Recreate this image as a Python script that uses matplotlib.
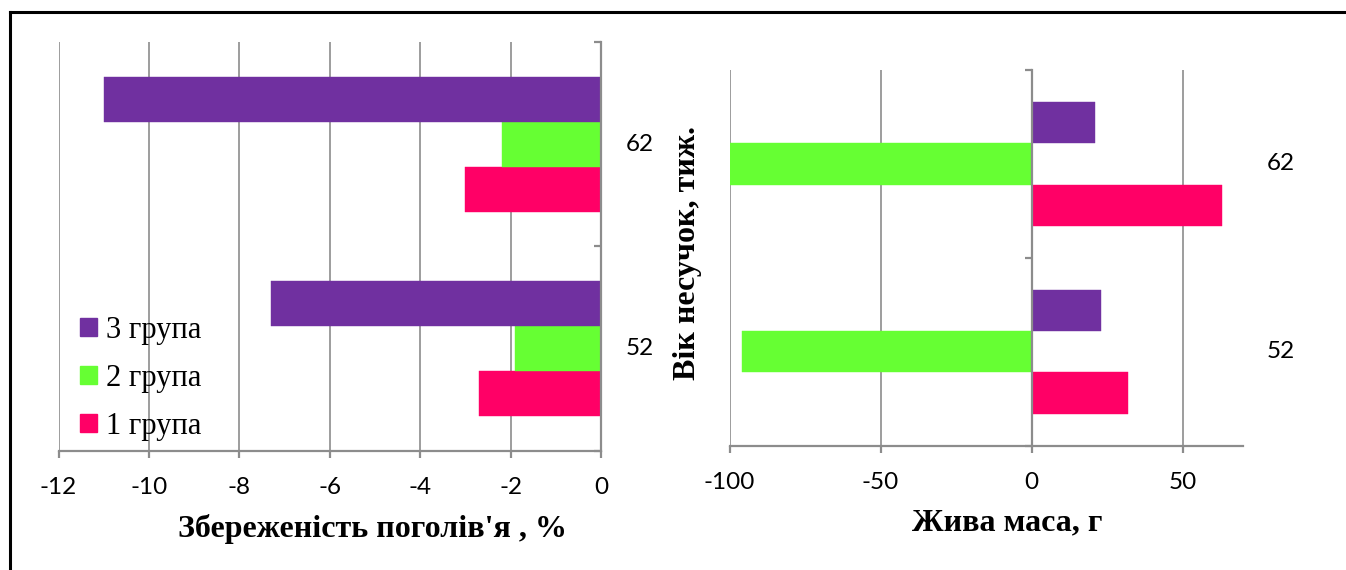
import matplotlib
matplotlib.use("Agg")
import matplotlib.pyplot as plt
from matplotlib.lines import Line2D
from matplotlib.patches import Patch

# ---- data ----
ages = ["52", "62"]
groups = ["1 група", "2 група", "3 група"]
colors = ["#FF0066", "#66FF33", "#7030A0"]
survival = {  # Збереженість поголів'я, %
    "1 група": [-2.7, -3.0],
    "2 група": [-1.9, -2.2],
    "3 група": [-7.3, -11.0],
}
weight = {  # Жива маса, г
    "1 група": [32, 63],
    "2 група": [-96, -100],
    "3 група": [23, 21],
}
left_ticks = [-12, -10, -8, -6, -4, -2, 0]
right_ticks = [-100, -50, 0, 50]

W, H = 1346, 570
fig = plt.figure(figsize=(W / 100, H / 100), dpi=100)

GRID = "#8c8c8c"
tick_font = dict(family="Lato", size=17.5)
label_font = dict(family="Liberation Serif", weight="bold", size=23)


def px_axes(x0, y0, x1, y1):
    return fig.add_axes([x0 / W, 1 - y1 / H, (x1 - x0) / W, (y1 - y0) / H])


def style(ax, data, xlim, xticks, lab_x):
    bh = 0.22
    offsets = [-bh, 0.0, bh]
    for g, c, off in zip(groups, colors, offsets):
        ys = [i + off for i in range(len(ages))]
        ax.barh(ys, data[g], height=bh, color=c, edgecolor=c, linewidth=0.3, zorder=1)
    ax.set_xlim(*xlim)
    ax.set_ylim(-0.5, len(ages) - 0.5)
    ax.set_axisbelow(True)
    ax.set_xticks(xticks)
    ax.set_xticklabels([str(t) for t in xticks], fontdict=tick_font)
    ax.xaxis.grid(True, color=GRID, linewidth=1.2)
    for s in ["top", "right"]:
        ax.spines[s].set_visible(False)
    ax.spines["left"].set_position(("data", 0))
    ax.spines["left"].set_color(GRID)
    ax.spines["left"].set_linewidth(1.6)
    ax.spines["bottom"].set_color(GRID)
    ax.spines["bottom"].set_linewidth(1.6)
    ax.set_yticks([-0.5, 0.5, 1.5])
    ax.set_yticklabels([])
    ax.tick_params(axis="y", direction="out", length=5, width=1.6, color=GRID)
    ax.tick_params(axis="x", direction="out", length=5, width=1.6, color=GRID, pad=14)
    for i, a in enumerate(ages):
        ax.text(lab_x, i, a, transform=ax.get_yaxis_transform(), ha="center",
                va="center", fontdict=tick_font)


# left panel
ax1 = px_axes(58.5, 42, 601, 450.7)
style(ax1, survival, (-12, 0), left_ticks, 1.072)
handles = [Patch(facecolor=c, edgecolor=c) for c in colors][::-1]
ax1.legend(handles, groups[::-1], loc="upper left", bbox_to_anchor=(0.04, 0.33),
           frameon=False, prop=dict(family="Liberation Serif", size=22),
           handlelength=0.55, handleheight=0.5, handletextpad=0.3,
           labelspacing=0.62, borderaxespad=0.0, borderpad=0.0)
fig.text(372 / W, 1 - 537 / H, "Збереженість поголів'я , %", ha="center",
         va="baseline", **label_font)

# right panel
ax2 = px_axes(729.6, 70, 1243, 445.7)
style(ax2, weight, (-100, 70), right_ticks, 1.074)
fig.text(1007 / W, 1 - 530 / H, "Жива маса, г", ha="center", va="baseline",
         **label_font)
fig.text(687 / W, 1 - 253 / H, "Вік несучок, тиж.", ha="center", va="center",
         rotation=90, **label_font)

# outer frame (top and left edges)
fig.add_artist(Line2D([9.5 / W, 1.0], [1 - 11.5 / H, 1 - 11.5 / H],
                      transform=fig.transFigure, color="black", linewidth=2.2))
fig.add_artist(Line2D([9.5 / W, 9.5 / W], [0, 1 - 11.5 / H],
                      transform=fig.transFigure, color="black", linewidth=2.2))

fig.savefig("out.png", dpi=100)
